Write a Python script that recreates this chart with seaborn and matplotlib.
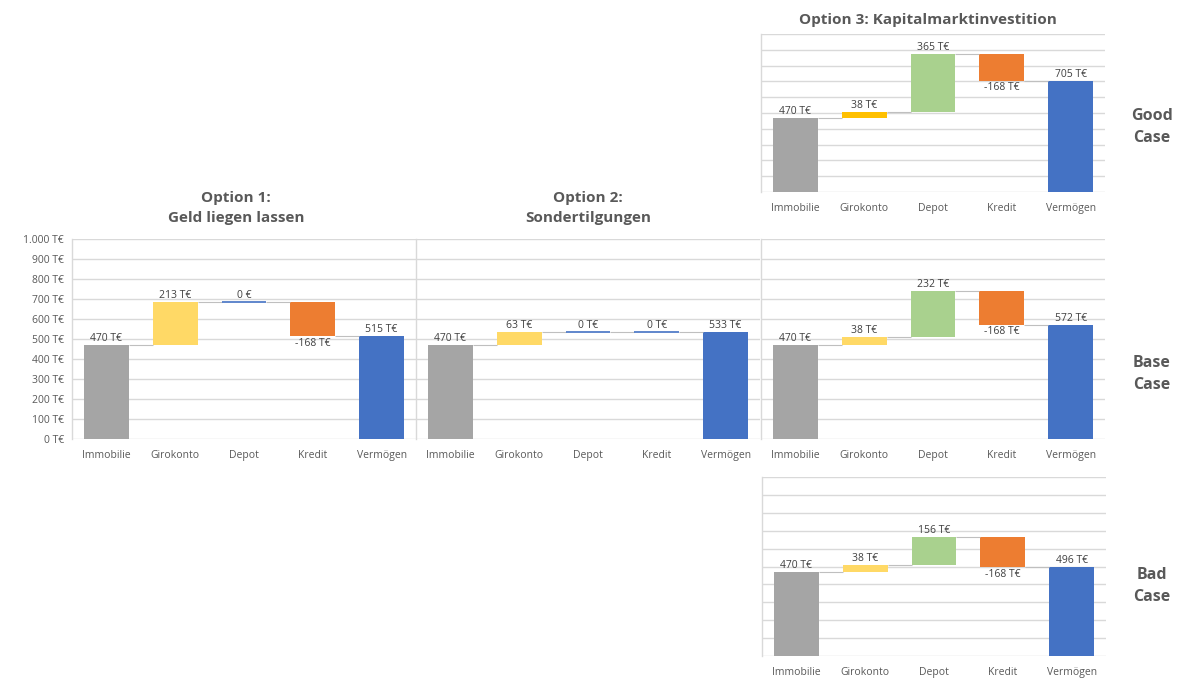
import matplotlib.pyplot as plt
import seaborn as sns
import pandas as pd

# === Data ===
categories = ["Immobilie", "Girokonto", "Depot", "Kredit", "Vermögen"]

opt1_values = [470, 213, 0, -168, 515]
opt2_values = [470, 63, 0, 0, 533]
good_values = [470, 38, 365, -168, 705]
base_values = [470, 38, 232, -168, 572]
bad_values = [470, 38, 156, -168, 496]

opt1_labels = ["470 T€", "213 T€", "0 €", "-168 T€", "515 T€"]

y_ticks = [0, 100, 200, 300, 400, 500, 600, 700, 800, 900, 1000]
y_tick_labels = ["0 T€", "100 T€", "200 T€", "300 T€", "400 T€", "500 T€",
                 "600 T€", "700 T€", "800 T€", "900 T€", "1.000 T€"]

# === Colours ===
GREY, YELLOW, GOLD = "#A5A5A5", "#FFD966", "#FFC000"
GREEN, ORANGE, BLUE = "#A9D18E", "#ED7D31", "#4472C4"
colors_std = [GREY, YELLOW, GREEN, ORANGE, BLUE]
colors_good = [GREY, GOLD, GREEN, ORANGE, BLUE]
GRID = "#D9D9D9"
TXT = "#404040"
TITLE = "#595959"

sns.set_style("white")
plt.rcParams["font.family"] = ["Open Sans", "DejaVu Sans"]

BAR_W = 0.65


def waterfall(ax, values, colors, labels=None, show_y=False):
    if labels is None:
        labels = [f"{v} T€" for v in values]
    bottoms, heights, levels = [], [], []
    level = 0
    for i, v in enumerate(values):
        if i == 0 or i == len(values) - 1:
            bottoms.append(0)
            heights.append(v)
            level = v
        else:
            bottoms.append(min(level, level + v))
            heights.append(abs(v))
            level += v
        levels.append(level)

    df = pd.DataFrame({"cat": categories, "h": heights})
    sns.barplot(data=df, x="cat", y="h", hue="cat", palette=colors, legend=False,
                width=BAR_W, saturation=1, linewidth=0, errorbar=None, ax=ax)
    # shift the floating bars up to their running level
    for cont, b in zip(ax.containers, bottoms):
        for r in cont:
            r.set_y(b)

    half = BAR_W / 2
    for i, (v, b, h, lab) in enumerate(zip(values, bottoms, heights, labels)):
        if h == 0:
            ax.hlines(b, i - half, i + half, color=BLUE, lw=1.2, zorder=3)
        if v < 0:
            ax.text(i, b - 8, lab, ha="center", va="top", fontsize=7.5, color=TXT)
        else:
            ax.text(i, b + h + 5, lab, ha="center", va="bottom", fontsize=7.5, color=TXT)
        if i < len(values) - 1:
            ax.hlines(levels[i], i + half, i + 1 - half, color="#BFBFBF", lw=0.8, zorder=1)

    ax.set_ylim(0, 1000)
    ax.set_xlim(-0.5, 4.5)
    ax.set_yticks(y_ticks)
    if show_y:
        ax.set_yticklabels(y_tick_labels)
    else:
        ax.set_yticklabels([])
    ax.yaxis.grid(True, color=GRID, lw=1)
    ax.set_axisbelow(True)
    for s in ["top", "right", "bottom"]:
        ax.spines[s].set_visible(False)
    ax.spines["left"].set_color(GRID)
    ax.spines["left"].set_linewidth(1)
    ax.tick_params(axis="both", length=0, labelsize=7.5, colors=TITLE)
    ax.tick_params(axis="x", pad=8)
    ax.tick_params(axis="y", pad=6)
    ax.set_xlabel("")
    ax.set_ylabel("")


fig = plt.figure(figsize=(11.89, 6.90), dpi=100)

W = 344 / 1189
ax1 = fig.add_axes([72 / 1189, 1 - 439 / 690, W, 200 / 690])
ax2 = fig.add_axes([416 / 1189, 1 - 439 / 690, W, 200 / 690])
ax_base = fig.add_axes([761 / 1189, 1 - 439 / 690, W, 200 / 690])
ax_good = fig.add_axes([761 / 1189, 1 - 192 / 690, W, 158 / 690])
ax_bad = fig.add_axes([762 / 1189, 1 - 656 / 690, W, 179 / 690])

waterfall(ax1, opt1_values, colors_std, opt1_labels, show_y=True)
waterfall(ax2, opt2_values, colors_std)
waterfall(ax_base, base_values, colors_std)
waterfall(ax_good, good_values, colors_good)
waterfall(ax_bad, bad_values, colors_std)

title_kw = dict(fontsize=11, fontweight="bold", color=TITLE, linespacing=1.6)
ax1.set_title("Option 1:\nGeld liegen lassen", pad=12, x=0.477, **title_kw)
ax2.set_title("Option 2:\nSondertilgungen", pad=12, x=0.5, **title_kw)
ax_good.set_title("Option 3: Kapitalmarktinvestition", pad=7, x=0.485, **title_kw)

row_kw = dict(fontsize=11.5, fontweight="bold", color=TITLE, ha="center", va="center",
              linespacing=1.5)
fig.text(1152 / 1189, 1 - 127 / 690, "Good\nCase", **row_kw)
fig.text(1152 / 1189, 1 - 374 / 690, "Base\nCase", **row_kw)
fig.text(1152 / 1189, 1 - 586 / 690, "Bad\nCase", **row_kw)

plt.savefig("out.png", dpi=100)
